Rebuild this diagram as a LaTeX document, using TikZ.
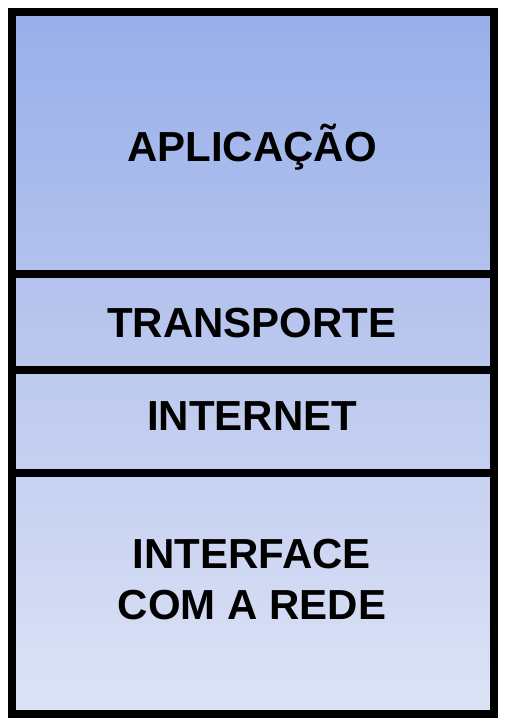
\documentclass[tikz,border=0pt]{standalone}
\usepackage{fontspec}
\setmainfont{Liberation Sans}
\definecolor{topblue}{HTML}{97AFEA}
\definecolor{midblue}{HTML}{BCC8EE}
\definecolor{botblue}{HTML}{DDE3F6}
\tikzset{
  layertext/.style={font=\fontsize{42}{51}\selectfont\bfseries, text=black, inner sep=0pt, anchor=base, align=center},
  frame/.style={draw=black, line width=8pt},
  divider/.style={draw=black, line width=8pt}
}
\begin{document}
\begin{tikzpicture}[x=1pt,y=-1pt]
\useasboundingbox (0,0) rectangle (506,727);
\shade[top color=topblue, bottom color=botblue, middle color=midblue] (12,12) rectangle (494,714);
\coordinate (l1) at (12,274); \coordinate (r1) at (494,274);
\coordinate (l2) at (12,370); \coordinate (r2) at (494,370);
\coordinate (l3) at (12,473); \coordinate (r3) at (494,473);
\draw[divider] (l1) -- (r1);
\draw[divider] (l2) -- (r2);
\draw[divider] (l3) -- (r3);
\draw[frame] (12,12) rectangle (494,714);
\node[layertext] (app) at (252,162) {APLICAÇÃO};
\node[layertext] (trans) at (252,337) {TRANSPORTE};
\node[layertext] (inet) at (252,430) {INTERNET};
\node[layertext] (iface) at (252,619) {INTERFACE\\COM A REDE};
\end{tikzpicture}
\end{document}
